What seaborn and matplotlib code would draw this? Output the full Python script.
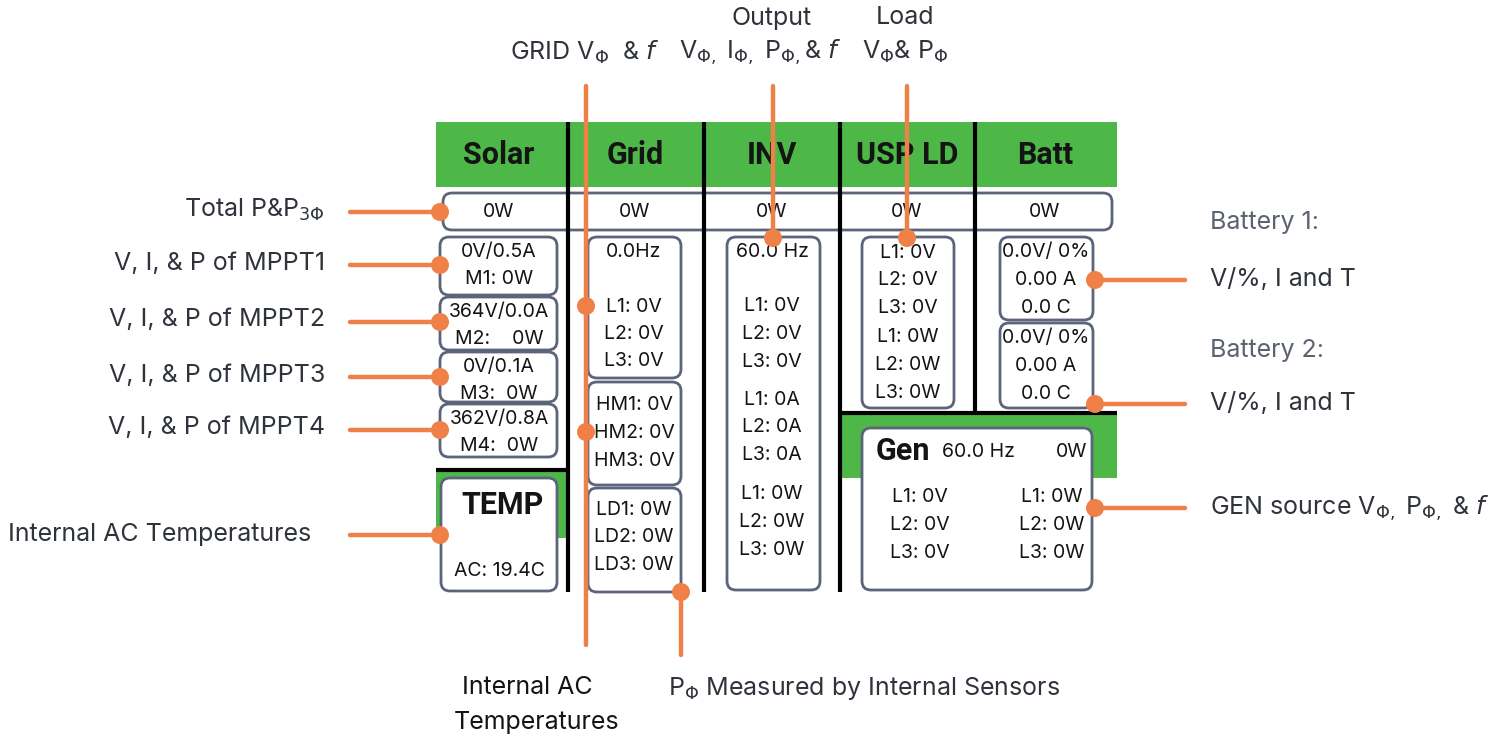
import matplotlib.pyplot as plt
import seaborn as sns
from matplotlib.patches import FancyBboxPatch, Circle, Rectangle

sns.set_theme(style="white")
plt.rcParams["font.family"] = ["Inter", "DejaVu Sans"]

# panel content
columns = ["Solar", "Grid", "INV", "USP LD", "Batt"]
totals = ["0W", "0W", "0W", "0W", "0W"]
mppt_lines = [["0V/0.5A", "M1: 0W"], ["364V/0.0A", "M2:    0W"],
              ["0V/0.1A", "M3:  0W"], ["362V/0.8A", "M4:  0W"]]
temp_value = "AC: 19.4C"
grid_freq = "0.0Hz"
grid_volts = ["L1: 0V", "L2: 0V", "L3: 0V"]
grid_hm = ["HM1: 0V", "HM2: 0V", "HM3: 0V"]
grid_ld = ["LD1: 0W", "LD2: 0W", "LD3: 0W"]
inv_freq = "60.0 Hz"
inv_volts = ["L1: 0V", "L2: 0V", "L3: 0V"]
inv_amps = ["L1: 0A", "L2: 0A", "L3: 0A"]
inv_watts = ["L1: 0W", "L2: 0W", "L3: 0W"]
ups_volts = ["L1: 0V", "L2: 0V", "L3: 0V"]
ups_watts = ["L1: 0W", "L2: 0W", "L3: 0W"]
batt_lines = [["0.0V/ 0%", "0.00 A", "0.0 C"], ["0.0V/ 0%", "0.00 A", "0.0 C"]]
gen_freq = "60.0 Hz"
gen_total = "0W"
gen_volts = ["L1: 0V", "L2: 0V", "L3: 0V"]
gen_watts = ["L1: 0W", "L2: 0W", "L3: 0W"]

# annotation texts
left_notes = [r"Total P&P$_{3\Phi}$", "V, I, & P of MPPT1", "V, I, & P of MPPT2",
              "V, I, & P of MPPT3", "V, I, & P of MPPT4"]
temp_note = "Internal AC Temperatures"
top_notes = [[r"GRID V$_{\Phi}$  & $f$"],
             ["Output", r"V$_{\Phi,}$ I$_{\Phi,}$ P$_{\Phi,}$& $f$"],
             ["Load", r"V$_{\Phi}$& P$_{\Phi}$"]]
bottom_notes = [["Internal AC", "Temperatures"], [r"P$_{\Phi}$ Measured by Internal Sensors"]]
right_notes = ["Battery 1:", "V/%, I and T", "Battery 2:", "V/%, I and T",
               r"GEN source V$_{\Phi,}$ P$_{\Phi,}$ & $f$"]

GREEN = "#4db848"
ORANGE = "#ee8048"
EDGE = "#5b6479"
INK = "#141414"
NOTE = "#2f333b"
BOLD = ["Roboto", "DejaVu Sans"]

fig = plt.figure(figsize=(14.94, 7.38), dpi=100)
ax = fig.add_axes([0, 0, 1, 1])
ax.set_xlim(0, 1494)
ax.set_ylim(738, 0)
ax.axis("off")


def box(x0, y0, x1, y1, z=3):
    ax.add_patch(FancyBboxPatch((x0, y0), x1 - x0, y1 - y0,
                                boxstyle="round,pad=0,rounding_size=9",
                                fc="white", ec=EDGE, lw=2, zorder=z))


def txt(x, y, s, size=14, ha="center", color=INK, **kw):
    ax.text(x, y, s, fontsize=size, ha=ha, va="center", color=color, zorder=6, **kw)


def lines(x, ys, items, size=14, ha="center"):
    for y, s in zip(ys, items):
        txt(x, y, s, size=size, ha=ha)


# green headers
ax.add_patch(Rectangle((436, 122), 681, 65, fc=GREEN, ec="none", zorder=1))
ax.add_patch(Rectangle((436, 472), 131, 66, fc=GREEN, ec="none", zorder=1))
ax.add_patch(Rectangle((842, 415), 275, 63, fc=GREEN, ec="none", zorder=1))
centers = [499, 635, 772, 907, 1045]
for cx, name in zip(centers, columns):
    txt(cx, 155, name, size=22, weight="bold", family=BOLD)

# total row
box(443, 193, 1112, 230, z=2)
for cx, val in zip(centers, totals):
    txt(cx, 212, val)

# solar column
for (y0, y1), pair in zip([(237, 295), (297, 350), (352, 402), (404, 457)], mppt_lines):
    box(440, y0, 557, y1)
    lines(499, [y0 + 15, y0 + 42], pair)
box(441, 478, 557, 591)
txt(502, 505, "TEMP", size=22, weight="bold", family=BOLD)
txt(499, 571, temp_value)

# grid column
box(588, 237, 681, 378)
lines(634, [252, 307, 334, 361], [grid_freq] + grid_volts)
box(588, 382, 681, 485)
lines(634, [405, 433, 461], grid_hm)
box(588, 488, 681, 592)
lines(634, [510, 537, 565], grid_ld)

# inverter column
box(727, 237, 820, 590)
lines(772, [252, 306, 334, 362, 400, 427, 455, 494, 522, 550],
      [inv_freq] + inv_volts + inv_amps + inv_watts)

# ups load column
box(862, 237, 954, 408)
lines(908, [253, 280, 308, 337, 365, 393], ups_volts + ups_watts)

# battery column
for y0, y1, vals in [(237, 320, batt_lines[0]), (323, 408, batt_lines[1])]:
    box(1000, y0, 1093, y1)
    lines(1046, [y0 + 15, y0 + 43, y0 + 71], vals)

# generator
box(862, 428, 1092, 590)
txt(876, 451, "Gen", size=22, ha="left", weight="bold", family=BOLD)
txt(942, 452, gen_freq, ha="left")
txt(1087, 452, gen_total, ha="right")
lines(920, [497, 525, 553], gen_volts)
lines(1052, [497, 525, 553], gen_watts)

# black separators
for x, y1 in [(568, 592), (704, 592), (840, 592), (975, 413)]:
    ax.plot([x, x], [122, y1], color="black", lw=3, zorder=4, solid_capstyle="butt")
ax.plot([436, 568], [470, 470], color="black", lw=3, zorder=4, solid_capstyle="butt")
ax.plot([840, 1117], [413, 413], color="black", lw=3, zorder=4, solid_capstyle="butt")


# orange callouts
def dot(x, y):
    ax.add_patch(Circle((x, y), 9, fc=ORANGE, ec="none", zorder=8))


def seg(x0, y0, x1, y1):
    ax.plot([x0, x1], [y0, y1], color=ORANGE, lw=3.2, zorder=7, solid_capstyle="round")


for y, s in zip([212, 265, 322, 377, 430], left_notes):
    seg(350, y, 440, y)
    dot(440, y)
    txt(325, y - 2, s, size=18, ha="right", color=NOTE)
seg(350, 535, 440, 535)
dot(440, 535)
txt(8, 535, temp_note, size=18, ha="left", color=NOTE)

seg(586, 86, 586, 645)
dot(586, 306)
dot(586, 432)
seg(773, 86, 773, 238)
dot(773, 238)
seg(907, 86, 907, 238)
dot(907, 238)
seg(681, 592, 681, 655)
dot(681, 592)

txt(585, 52, top_notes[0][0], size=18, color=NOTE)
txt(772, 18, top_notes[1][0], size=18, color=NOTE)
txt(760, 52, top_notes[1][1], size=18, color=NOTE)
txt(905, 18, top_notes[2][0], size=18, color=NOTE)
txt(905, 52, top_notes[2][1], size=18, color=NOTE)

txt(527, 688, bottom_notes[0][0], size=18, color=INK)
txt(537, 722, bottom_notes[0][1], size=18, color=INK)
txt(668, 688, bottom_notes[1][0], size=18, ha="left", color=NOTE)

for y in [280, 404, 508]:
    seg(1095, y, 1185, y)
    dot(1095, y)
for y, s, c in zip([222, 280, 350, 404, 508], right_notes,
                   ["#5b6270", NOTE, "#5b6270", NOTE, NOTE]):
    txt(1210, y, s, size=18, ha="left", color=c)

fig.savefig("out.png", dpi=100)
